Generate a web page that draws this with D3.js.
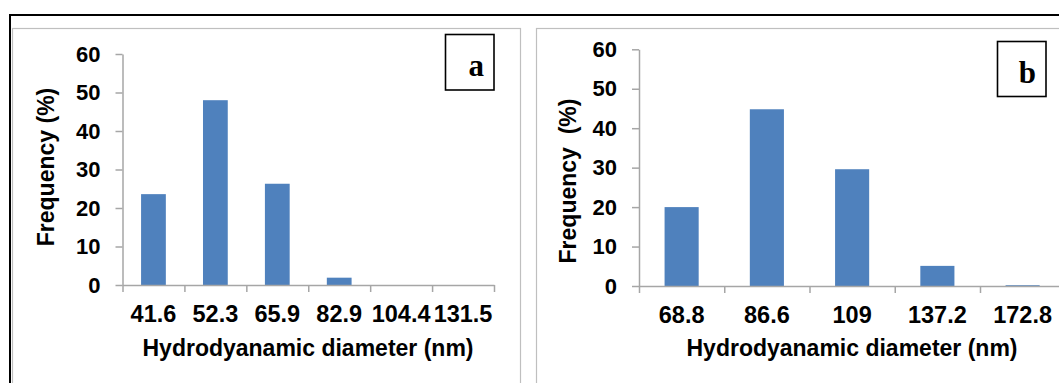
<!DOCTYPE html>
<html>
<head>
<meta charset="utf-8">
<script src="https://cdn.jsdelivr.net/npm/d3@7"></script>
<style>
  body { margin: 0; background: #fff; }
  svg { display: block; }
  .tick text { font-family: "Liberation Sans", Arial, sans-serif; font-weight: bold; font-size: 22px; fill: #000; }
  .xlab .tick text { font-size: 23.5px; }
  .title { font-family: "Liberation Sans", Arial, sans-serif; font-weight: bold; font-size: 23px; fill: #000; }
  .tag { font-family: "Liberation Serif", "Times New Roman", serif; font-weight: bold; font-size: 31px; fill: #000; }
</style>
</head>
<body>
<div id="chart"></div>
<script>
// data
const catsA = ["41.6", "52.3", "65.9", "82.9", "104.4", "131.5"];
const valsA = [23.6, 48, 26.3, 1.9, 0, 0];
const catsB = ["68.8", "86.6", "109", "137.2", "172.8"];
const valsB = [20, 44.8, 29.6, 5.1, 0.2];
const yTicks = [0, 10, 20, 30, 40, 50, 60];

const W = 1059, H = 383;
const axisGray = "#a6a6a6";
const barColor = "#4f81bd";

const svg = d3.select("#chart").append("svg")
    .attr("width", W)
    .attr("height", H);

// outer frame: black line on top and left, grey panel borders
svg.append("line").attr("x1", 9).attr("x2", W).attr("y1", 15).attr("y2", 15)
    .attr("stroke", "#000").attr("stroke-width", 2);
svg.append("line").attr("x1", 10).attr("x2", 10).attr("y1", 14).attr("y2", H)
    .attr("stroke", "#000").attr("stroke-width", 2);
svg.append("rect").attr("x", 12.5).attr("y", 28.5).attr("width", 508).attr("height", 400)
    .attr("fill", "none").attr("stroke", "#bfbfbf").attr("stroke-width", 1.2);
svg.append("rect").attr("x", 536.5).attr("y", 28.5).attr("width", 600).attr("height", 400)
    .attr("fill", "none").attr("stroke", "#bfbfbf").attr("stroke-width", 1.2);

function drawPanel(opts) {
    const {cats, vals, x0, x1, y0, y60, yTitleX, yTitle, xTitleX, xTitleY, tag, tagBox} = opts;

    const g = svg.append("g");

    const x = d3.scaleBand()
        .domain(cats)
        .range([x0, x1])
        .paddingInner(0.6)
        .paddingOuter(0.3);

    // boundaries between categories for the tick marks
    const xEdge = d3.scaleLinear().domain([0, cats.length]).range([x0, x1]);

    const y = d3.scaleLinear()
        .domain([0, 60])
        .range([y0, y60]);

    // bars
    g.selectAll("rect.bar")
        .data(vals)
        .join("rect")
        .attr("class", "bar")
        .attr("x", (d, i) => x(cats[i]))
        .attr("width", x.bandwidth())
        .attr("y", d => y(d))
        .attr("height", d => Math.max(y0 - y(d), d > 0 ? 1 : 0))
        .attr("fill", barColor);

    // y axis
    const yAxis = g.append("g")
        .attr("transform", "translate(" + x0 + ",0)")
        .call(d3.axisLeft(y).tickValues(yTicks).tickSize(7).tickPadding(15).tickSizeOuter(0));
    yAxis.select(".domain").attr("stroke", axisGray).attr("stroke-width", 1.5);
    yAxis.selectAll(".tick line").attr("stroke", axisGray).attr("stroke-width", 1.5);

    // x axis line + boundary ticks
    const xTickAxis = g.append("g")
        .attr("transform", "translate(0," + y0 + ")")
        .call(d3.axisBottom(xEdge).tickValues(d3.range(cats.length + 1)).tickFormat("").tickSize(7).tickSizeOuter(0));
    xTickAxis.select(".domain").attr("stroke", axisGray).attr("stroke-width", 1.5);
    xTickAxis.selectAll(".tick line").attr("stroke", axisGray).attr("stroke-width", 1.5);

    // category labels
    const xLab = g.append("g")
        .attr("class", "xlab")
        .attr("transform", "translate(0," + y0 + ")")
        .call(d3.axisBottom(x).tickSize(0).tickPadding(20));
    xLab.select(".domain").remove();

    // axis titles
    g.append("text")
        .attr("class", "title")
        .attr("text-anchor", "middle")
        .attr("transform", "translate(" + yTitleX + "," + opts.yTitleY + ") rotate(-90)")
        .style("white-space", "pre")
        .text(yTitle);

    g.append("text")
        .attr("class", "title")
        .attr("text-anchor", "middle")
        .attr("x", xTitleX)
        .attr("y", xTitleY)
        .text("Hydrodyanamic diameter (nm)");

    // panel tag box
    g.append("rect")
        .attr("x", tagBox[0]).attr("y", tagBox[1])
        .attr("width", tagBox[2]).attr("height", tagBox[3])
        .attr("fill", "#fff").attr("stroke", "#000").attr("stroke-width", 1.6);
    g.append("text")
        .attr("class", "tag")
        .attr("text-anchor", "end")
        .attr("x", tagBox[0] + tagBox[2] - 10)
        .attr("y", tagBox[1] + 41)
        .text(tag);
}

drawPanel({
    cats: catsA, vals: valsA,
    x0: 122.5, x1: 494, y0: 285, y60: 54,
    yTitleX: 54, yTitleY: 167, yTitle: "Frequency (%)",
    xTitleX: 308, xTitleY: 356,
    tag: "a", tagBox: [445.5, 34.5, 48.5, 55.5]
});

drawPanel({
    cats: catsB, vals: valsB,
    x0: 639, x1: 1065.25, y0: 286, y60: 49.3,
    yTitleX: 576, yTitleY: 181, yTitle: "Frequency  (%)",
    xTitleX: 852, xTitleY: 356,
    tag: "b", tagBox: [997.5, 41.5, 48.5, 55]
});
</script>
</body>
</html>
